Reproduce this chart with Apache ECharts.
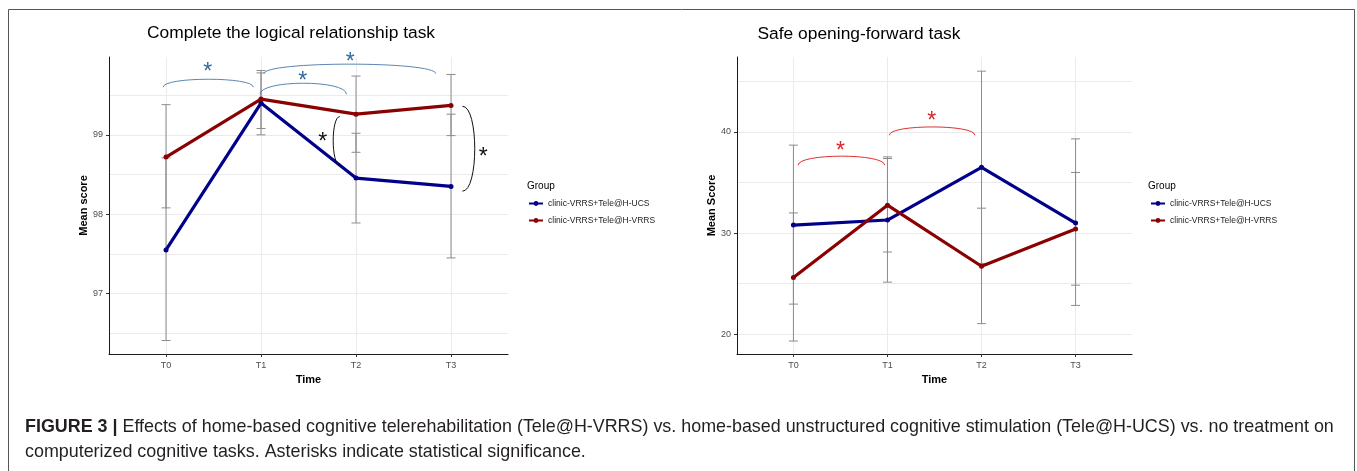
<!DOCTYPE html>
<html><head><meta charset="utf-8">
<script src="https://cdn.jsdelivr.net/npm/echarts@6/dist/echarts.min.js"></script>
<style>html,body{margin:0;padding:0;background:#fff}#c{width:1357px;height:471px}</style>
</head><body><div id="c"></div>
<script>
// ---------- data ----------
const timeLabels = ['T0', 'T1', 'T2', 'T3'];
const groupNames = ['clinic-VRRS+Tele@H-UCS', 'clinic-VRRS+Tele@H-VRRS'];
const chartTitles = ['Complete the logical relationship task', 'Safe opening-forward task'];
const yAxisNames = ['Mean score', 'Mean Score'];

// Left: Complete the logical relationship task
const logicUCS = [97.55, 99.40, 98.455, 98.35];
const logicVRRS = [98.72, 99.45, 99.26, 99.37];
const logicUCSLow = [96.41, 99.00, 97.89, 97.45];
const logicUCSHigh = [98.71, 99.78, 99.02, 99.26];
const logicVRRSLow = [98.08, 99.08, 98.78, 98.99];
const logicVRRSHigh = [99.38, 99.81, 99.74, 99.76];
const logicYTicks = [97, 98, 99];
const logicYGrid = [96.5, 97, 97.5, 98, 98.5, 99, 99.5];
const logicYRange = [96.24, 99.98];

// Right: Safe opening-forward task
const safeUCS = [30.79, 31.29, 36.5, 30.99];
const safeVRRS = [25.6, 32.76, 26.72, 30.4];
const safeUCSLow = [22.98, 25.15, 27.0, 22.85];
const safeUCSHigh = [38.69, 37.37, 46.0, 39.31];
const safeVRRSLow = [19.33, 28.13, 21.05, 24.85];
const safeVRRSHigh = [31.99, 37.53, 32.46, 35.99];
const safeYTicks = [20, 30, 40];
const safeYGrid = [20, 25, 30, 35, 40, 45];
const safeYRange = [18.05, 47.4];

// significance brackets: [x1, x2, yEnd, yTop, starX, starY]
const logicBraces = [
  [-0.03, 0.92, 99.60, 99.70, 0.44, 99.84],
  [0.99, 1.90, 99.51, 99.65, 1.44, 99.73],
  [1.03, 2.84, 99.77, 99.89, 1.94, 99.97]
];
// vertical brackets: [xEnd, xBulge, y1, y2, starX, starY]
const logicVBraces = [
  [1.83, 1.76, 99.23, 98.62, 1.65, 98.96],
  [3.12, 3.25, 99.36, 98.29, 3.34, 98.77]
];
const safeBraces = [
  [0.05, 0.97, 36.71, 37.6, 0.50, 38.49],
  [1.02, 1.93, 39.67, 40.49, 1.47, 41.45]
];

// ---------- styles ----------
const BLUE = '#00008b', RED = '#8b0000';
const FONT = 'Liberation Sans';
const GRIDC = '#ebebeb';

function pts(arr) { return arr.map((v, i) => [i, v]); }
function errData(lo, hi) { return lo.map((v, i) => [i, lo[i], hi[i]]); }

function errRender(params, api) {
  const x = api.value(0), lo = api.value(1), hi = api.value(2);
  const a = api.coord([x, lo]), b = api.coord([x, hi]);
  const hw = 4.5, st = { stroke: '#8c8c8c', lineWidth: 1 };
  return { type: 'group', children: [
    { type: 'line', shape: { x1: a[0], y1: a[1], x2: b[0], y2: b[1] }, style: st },
    { type: 'line', shape: { x1: a[0] - hw, y1: a[1], x2: a[0] + hw, y2: a[1] }, style: st },
    { type: 'line', shape: { x1: b[0] - hw, y1: b[1], x2: b[0] + hw, y2: b[1] }, style: st }
  ] };
}
function star(s, color, fs) {
  return { type: 'text', x: s[0], y: s[1] + fs * 0.2,
    style: { text: '*', fontSize: fs, fontFamily: FONT, fill: color, align: 'center', verticalAlign: 'middle' } };
}
function hBrace(color, starColor, fs) {
  return function (params, api) {
    const a = api.coord([api.value(0), api.value(2)]);
    const b = api.coord([api.value(1), api.value(2)]);
    const t = api.coord([api.value(0), api.value(3)]);
    const s = api.coord([api.value(4), api.value(5)]);
    const yc = a[1] + (t[1] - a[1]) / 0.75;
    return { type: 'group', children: [
      { type: 'path', shape: { pathData: `M${a[0]},${a[1]} C${a[0]},${yc} ${b[0]},${yc} ${b[0]},${b[1]}` },
        style: { fill: 'none', stroke: color, lineWidth: 1 } },
      star(s, starColor, fs)
    ] };
  };
}
function vBrace(color, fs) {
  return function (params, api) {
    const a = api.coord([api.value(0), api.value(2)]);
    const b = api.coord([api.value(0), api.value(3)]);
    const m = api.coord([api.value(1), api.value(2)]);
    const s = api.coord([api.value(4), api.value(5)]);
    const xc = a[0] + (m[0] - a[0]) / 0.75;
    return { type: 'group', children: [
      { type: 'path', shape: { pathData: `M${a[0]},${a[1]} C${xc},${a[1]} ${xc},${b[1]} ${b[0]},${b[1]}` },
        style: { fill: 'none', stroke: color, lineWidth: 1 } },
      star(s, color, fs)
    ] };
  };
}

function xAxisDef(gi) {
  return {
    gridIndex: gi, type: 'value', min: -0.6, max: 3.6,
    axisLine: { show: true, onZero: false, lineStyle: { color: '#1a1a1a', width: 1 } },
    axisTick: { show: true, customValues: [0, 1, 2, 3], length: 3, lineStyle: { color: '#333' } },
    axisLabel: { customValues: [0, 1, 2, 3], formatter: v => timeLabels[Math.round(v)],
      fontSize: 9, color: '#4d4d4d', fontFamily: FONT, margin: 7 },
    splitLine: { show: true, lineStyle: { color: GRIDC, width: 1 } },
    name: 'Time', nameLocation: 'middle', nameGap: 12,
    nameTextStyle: { fontSize: 11, fontWeight: 'bold', color: '#000', fontFamily: FONT }
  };
}
function yAxisMain(gi, range, ticks, name) {
  return {
    gridIndex: gi, type: 'value', min: range[0], max: range[1], position: 'left',
    axisLine: { show: true, onZero: false, lineStyle: { color: '#1a1a1a', width: 1 } },
    axisTick: { show: true, customValues: ticks, length: 3, lineStyle: { color: '#333' } },
    axisLabel: { customValues: ticks, fontSize: 9, color: '#4d4d4d', fontFamily: FONT, margin: 6 },
    splitLine: { show: false },
    name: name, nameLocation: 'middle', nameGap: 14, nameRotate: 90,
    nameTextStyle: { fontSize: 11, fontWeight: 'bold', color: '#000', fontFamily: FONT }
  };
}
function yAxisGrid(gi, range, grid) {
  return {
    gridIndex: gi, type: 'value', min: range[0], max: range[1], position: 'right',
    axisLine: { show: false, onZero: false }, axisTick: { show: false, customValues: grid },
    axisLabel: { show: false, customValues: grid },
    splitLine: { show: true, lineStyle: { color: GRIDC, width: 1 } }
  };
}
function lineSeries(name, data, color, xi, yi) {
  return { type: 'line', name: name, data: pts(data), xAxisIndex: xi, yAxisIndex: yi,
    color: color, lineStyle: { color: color, width: 3.2 }, itemStyle: { color: color },
    symbol: 'circle', symbolSize: 5, showSymbol: true, z: 4, animation: false };
}
function errSeries(lo, hi, xi, yi) {
  return { type: 'custom', data: errData(lo, hi), xAxisIndex: xi, yAxisIndex: yi,
    renderItem: errRender, z: 3, silent: true, animation: false };
}
function legendDef(left) {
  return { orient: 'vertical', left: left, top: 199, itemWidth: 14, itemHeight: 6, itemGap: 8,
    data: groupNames, selectedMode: false, padding: 0,
    textStyle: { fontSize: 8.5, color: '#222', fontFamily: FONT } };
}
function txt(x, y, text, fs, extra) {
  return Object.assign({ type: 'text', x: x, y: y,
    style: Object.assign({ text: text, fontSize: fs, fontFamily: FONT, fill: '#000',
      align: 'center', verticalAlign: 'middle' }, extra || {}) });
}

const chart = echarts.init(document.getElementById('c'), null, { renderer: 'canvas' });
chart.setOption({
  animation: false,
  backgroundColor: '#fff',
  grid: [
    { left: 109, top: 57, width: 399, height: 297 },
    { left: 737, top: 57, width: 395, height: 297 }
  ],
  xAxis: [xAxisDef(0), xAxisDef(1)],
  yAxis: [
    yAxisMain(0, logicYRange, logicYTicks, yAxisNames[0]),
    yAxisGrid(0, logicYRange, logicYGrid),
    yAxisMain(1, safeYRange, safeYTicks, yAxisNames[1]),
    yAxisGrid(1, safeYRange, safeYGrid)
  ],
  legend: [legendDef(528), legendDef(1150)],
  series: [
    errSeries(logicUCSLow, logicUCSHigh, 0, 0),
    errSeries(logicVRRSLow, logicVRRSHigh, 0, 0),
    lineSeries(groupNames[0], logicUCS, BLUE, 0, 0),
    lineSeries(groupNames[1], logicVRRS, RED, 0, 0),
    errSeries(safeUCSLow, safeUCSHigh, 1, 2),
    errSeries(safeVRRSLow, safeVRRSHigh, 1, 2),
    lineSeries(groupNames[0], safeUCS, BLUE, 1, 2),
    lineSeries(groupNames[1], safeVRRS, RED, 1, 2),
    { type: 'custom', data: logicBraces, xAxisIndex: 0, yAxisIndex: 0, clip: false, silent: true,
      renderItem: hBrace('#5b86b0', '#2f6aa0', 23), z: 5 },
    { type: 'custom', data: logicVBraces, xAxisIndex: 0, yAxisIndex: 0, clip: false, silent: true,
      renderItem: vBrace('#111', 23), z: 5 },
    { type: 'custom', data: safeBraces, xAxisIndex: 1, yAxisIndex: 2, clip: false, silent: true,
      renderItem: hBrace('#e03030', '#d9262b', 23), z: 5 }
  ],
  graphic: [
    { type: 'rect', shape: { x: 8.5, y: 9.5, width: 1346, height: 480 },
      style: { fill: 'none', stroke: '#555', lineWidth: 1 }, z: -1, silent: true },
    txt(291, 33, chartTitles[0], 17.4),
    txt(859, 34, chartTitles[1], 17.4),
    txt(527, 186, 'Group', 10, { align: 'left' }),
    txt(1148, 186, 'Group', 10, { align: 'left' }),
    { type: 'text', x: 25, y: 427, style: {
        text: '{b|FIGURE 3 |} Effects of home-based cognitive telerehabilitation (Tele@H-VRRS) vs. home-based unstructured cognitive stimulation (Tele@H-UCS) vs. no treatment on',
        rich: { b: { fontWeight: 'bold', fontSize: 17.9, fontFamily: FONT, fill: '#231f20' } },
        fontSize: 17.9, fontFamily: FONT, fill: '#231f20', align: 'left', verticalAlign: 'middle' } },
    { type: 'text', x: 25, y: 452, style: {
        text: 'computerized cognitive tasks. Asterisks indicate statistical significance.',
        fontSize: 17.9, fontFamily: FONT, fill: '#231f20', align: 'left', verticalAlign: 'middle' } }
  ]
});
</script>
</body></html>
